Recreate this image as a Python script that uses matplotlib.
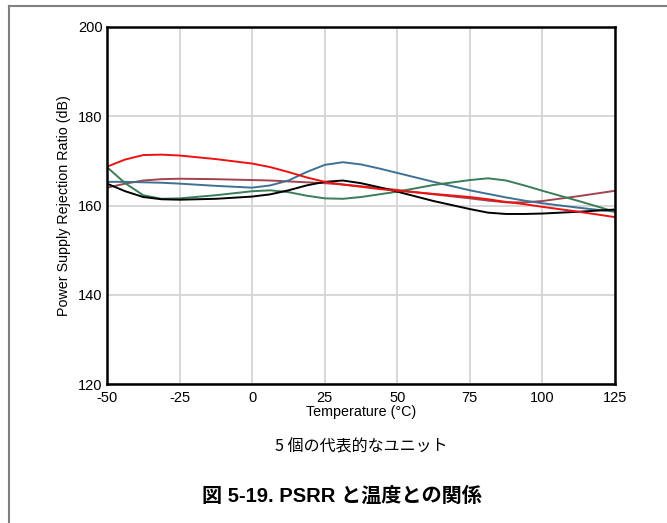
import matplotlib
matplotlib.use("Agg")
import matplotlib.pyplot as plt
from matplotlib.lines import Line2D

# temperature (°C) and PSRR (dB) for five units
temps = [-50, -43.75, -37.5, -31.25, -25, -12.5, 0, 6.25, 12.5, 18.75, 25, 31.25,
         37.5, 43.75, 50, 62.5, 75, 81.25, 87.5, 93.75, 100, 112.5, 125]
unit_red = [168.7, 170.3, 171.3, 171.4, 171.2, 170.4, 169.4, 168.6, 167.5, 166.3, 165.3, 164.7,
            164.2, 163.7, 163.3, 162.6, 161.9, 161.4, 160.8, 160.3, 159.7, 158.6, 157.4]
unit_blue = [165.3, 165.3, 165.2, 165.1, 164.9, 164.4, 164.0, 164.5, 165.6, 167.5, 169.1, 169.7,
             169.2, 168.3, 167.3, 165.3, 163.4, 162.6, 161.8, 161.1, 160.5, 159.5, 158.6]
unit_green = [168.6, 165.0, 162.3, 161.5, 161.6, 162.3, 163.2, 163.4, 163.0, 162.2, 161.6, 161.5,
              161.9, 162.5, 163.1, 164.6, 165.7, 166.1, 165.6, 164.5, 163.3, 161.0, 158.6]
unit_black = [164.9, 163.2, 161.9, 161.4, 161.3, 161.5, 162.0, 162.5, 163.4, 164.5, 165.3, 165.6,
              165.0, 164.1, 163.1, 161.0, 159.2, 158.4, 158.1, 158.1, 158.2, 158.6, 159.1]
unit_brown = [164.0, 164.9, 165.6, 165.9, 166.0, 165.9, 165.7, 165.6, 165.4, 165.2, 165.0, 164.7,
              164.3, 163.9, 163.5, 162.5, 161.6, 161.1, 160.7, 160.7, 161.0, 162.1, 163.3]

x_ticks = [-50, -25, 0, 25, 50, 75, 100, 125]
y_ticks = [120, 140, 160, 180, 200]

plt.rcParams["font.family"] = ["Liberation Sans", "Noto Sans CJK JP", "DejaVu Sans"]
plt.rcParams["axes.unicode_minus"] = False

fig = plt.figure(figsize=(6.67, 5.23), dpi=100)
ax = fig.add_axes([107 / 667, 1 - 384 / 523, 508 / 667, 357 / 523])

series = [
    (unit_brown, "#a3434d"),
    (unit_blue, "#3f7195"),
    (unit_green, "#3a7d58"),
    (unit_black, "#000000"),
    (unit_red, "#ee1111"),
]
for vals, col in series:
    ax.plot(temps, vals, color=col, lw=1.4, solid_joinstyle="round")

ax.set_xlim(-50, 125)
ax.set_ylim(120, 200)
ax.set_xticks(x_ticks)
ax.set_yticks(y_ticks)
ax.grid(True, color="#d4d4d4", lw=1.3)
ax.set_axisbelow(True)
ax.tick_params(length=0, labelsize=10.5)
ax.tick_params(axis="x", pad=5)
ax.tick_params(axis="y", pad=3)
for sp in ax.spines.values():
    sp.set_linewidth(1.8)
ax.set_xlabel("Temperature (°C)", fontsize=10.3, labelpad=0)
ax.set_ylabel("Power Supply Rejection Ratio (dB)", fontsize=10.3, labelpad=5)

fig.text(361 / 667, 1 - 447 / 523, "5 個の代表的なユニット", ha="center", va="center",
         fontsize=11.5, family=["Noto Sans CJK JP"], weight="normal")
fig.text(342 / 667, 1 - 496 / 523, "図 5-19. PSRR と温度との関係", ha="center", va="center",
         fontsize=14.5, weight="bold", family=["Liberation Sans", "Noto Sans CJK JP"])

# outer frame: top and left edges only
fig.add_artist(Line2D([9 / 667, 9 / 667], [0, 1 - 6 / 523], transform=fig.transFigure,
                      color="#808080", lw=1.5))
fig.add_artist(Line2D([9 / 667, 1], [1 - 6 / 523, 1 - 6 / 523], transform=fig.transFigure,
                      color="#808080", lw=1.5))

fig.savefig("out.png", dpi=100)
